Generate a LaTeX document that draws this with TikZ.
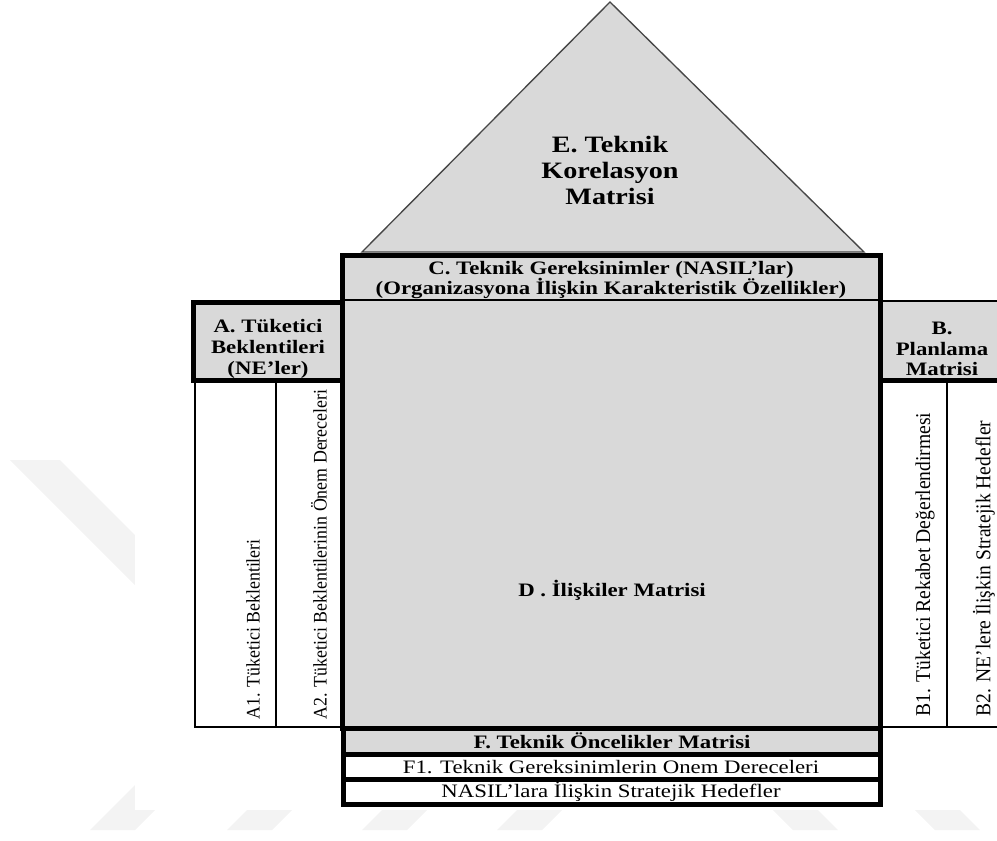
\documentclass[tikz,border=0pt]{standalone}
\usepackage{fontspec}
\setmainfont{Liberation Serif}
\newfontfamily\widefont[FakeStretch=1.2]{Liberation Serif}
\newfontfamily\sidefont[FakeStretch=0.93]{Liberation Serif}
\usepackage{tikz}
\definecolor{matgray}{RGB}{217,217,217}
\definecolor{markgray}{RGB}{243,243,243}
\definecolor{roofgray}{RGB}{70,70,70}

\begin{document}
\begin{tikzpicture}[x=0.75pt,y=-0.75pt,
    head/.style={font=\widefont\bfseries\fontsize{14.25}{15.6}\selectfont, align=center, inner sep=0pt},
    rowtext/.style={font=\widefont\fontsize{14.25}{15.6}\selectfont, inner sep=0pt},
    side/.style={font=\sidefont\fontsize{14.4}{16}\selectfont, rotate=90, anchor=west, inner sep=0pt},
    sideB/.style={side, font=\sidefont\fontsize{15.8}{17}\selectfont},
    frame/.style={line width=3.75pt},
    thin/.style={line width=0.8pt}]
      \useasboundingbox (0,0) rectangle (997,840);
      \clip (0,0) rectangle (997,840);

      % watermark, masked by the page
      \fill[markgray] (10,460) -- (60,460) -- (400,800) -- (350,800) -- cycle;
      \foreach \a in {90,227,362,497}
        \fill[markgray] (\a,830) -- (\a+45,830) -- (\a+115,760) -- (\a+70,760) -- cycle;
      \foreach \a in {773,915}
        \fill[markgray] (\a,810) -- (\a+45,810) -- (\a+65,830) -- (\a+20,830) -- cycle;
      \fill[white] (135,0) rectangle (997,810);

      % roof
      \coordinate (apex) at (610,2);
      \coordinate (eaveL) at (362,252);
      \coordinate (eaveR) at (864,252);
      \filldraw[fill=matgray, draw=roofgray, line width=1pt] (eaveL) -- (apex) -- (eaveR) -- cycle;

      % fills
      \fill[matgray] (342,255) rectangle (880,728);
      \fill[matgray] (193,302) rectangle (342,380);
      \fill[matgray] (880,302) rectangle (1010,380);
      \fill[matgray] (343,728) rectangle (880,754);

      % side columns
      \draw[thin] (195,380) -- (195,727) -- (342,727);
      \draw[thin] (276,380) -- (276,727);
      \draw[thin] (880,727) -- (1010,727);
      \draw[thin] (947,380) -- (947,727);
      \draw[thin] (880,301) -- (1010,301);

      % frames
      \draw[frame] (342,255) rectangle (880,728);
      \draw[line width=1.6pt] (342,300) -- (880,300);
      \draw[frame] (193,302) rectangle (342,380);
      \draw[frame] (880,380) -- (1010,380);
      \draw[frame] (343,728) rectangle (880,804);
      \draw[frame] (343,754) -- (880,754);
      \draw[frame] (343,779) -- (880,779);

      % labels
      \node[head, font=\widefont\bfseries\fontsize{17.6}{19.5}\selectfont] (roofE) at (610,170) {E. Teknik\\Korelasyon\\Matrisi};
      \node[head] (headC) at (611,280) {C. Teknik Gereksinimler (NASIL’lar)\\(Organizasyona İlişkin Karakteristik Özellikler)};
      \node[head] (headA) at (268,349) {A. Tüketici\\Beklentileri\\(NE’ler)};
      \node[head] (headB) at (942,349) {B.\\Planlama\\Matrisi};
      \node[head] (matD) at (612,590) {D . İlişkiler Matrisi};
      \node[head] (rowF) at (612,741) {F. Teknik Öncelikler Matrisi};
      \node[rowtext] (rowF1) at (611,767) {F1. Teknik Gereksinimlerin Onem Dereceleri};
      \node[rowtext] (rowF2) at (611,792) {NASIL’lara İlişkin Stratejik Hedefler};
      \node[side] (cellA1) at (253,720) {A1. Tüketici Beklentileri};
      \node[side] (cellA2) at (319,720) {A2. Tüketici Beklentilerinin Önem Dereceleri};
      \node[sideB] (cellB1) at (925,717) {B1. Tüketici Rekabet Değerlendirmesi};
      \node[sideB] (cellB2) at (984,717) {B2. NE’lere İlişkin Stratejik Hedefler};
\end{tikzpicture}
\end{document}
